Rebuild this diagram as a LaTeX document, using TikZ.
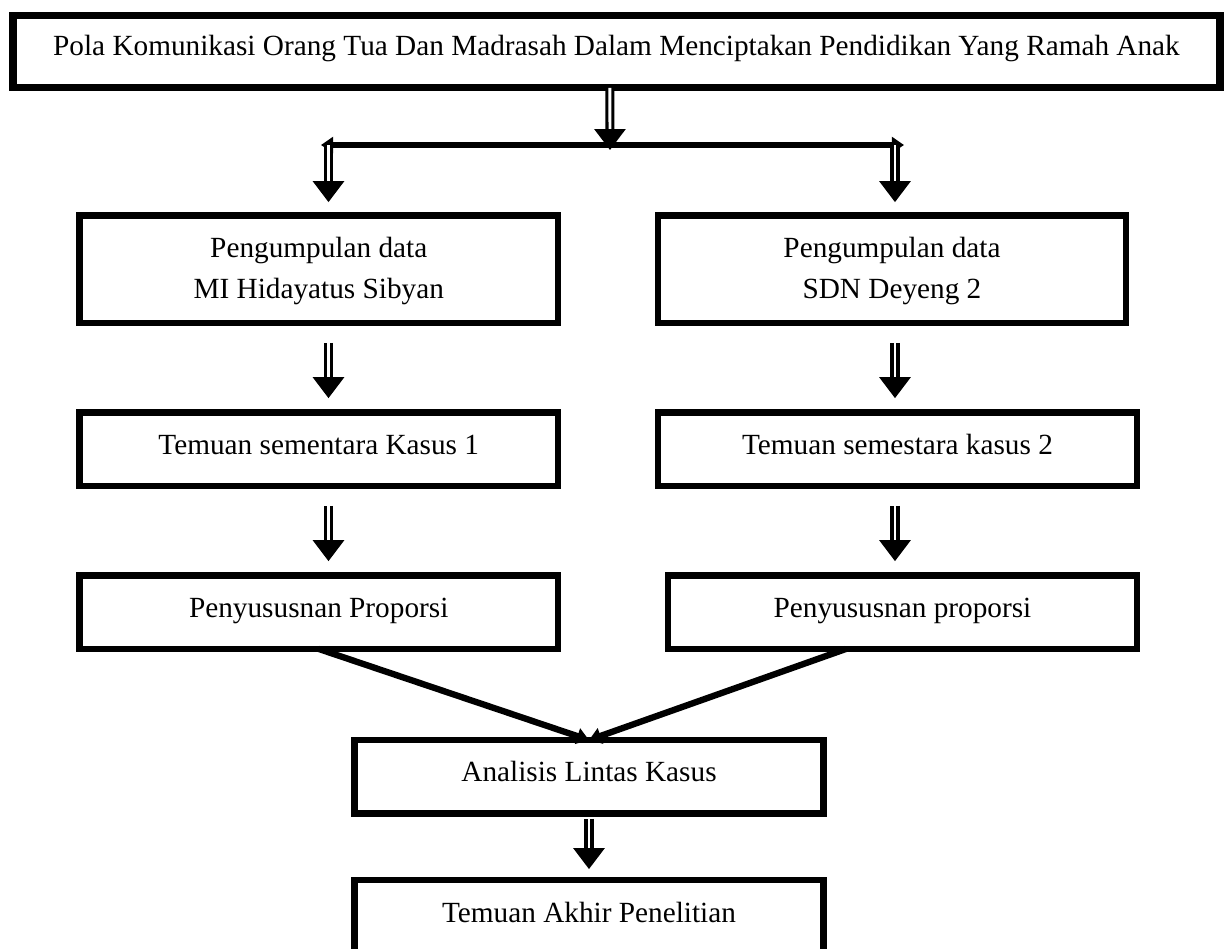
\documentclass[tikz,border=0pt]{standalone}
\usepackage{fontspec}
\setmainfont{Liberation Serif}
\usetikzlibrary{arrows.meta}

\tikzset{
  kotak/.style={draw, line width=2.7pt, inner sep=0pt, outer sep=0pt,
    text height=17.2pt, text depth=12.9pt,
    font=\fontsize{12}{16.8}\selectfont},
  panah/.style={double, double distance=1.2pt, line width=1.25pt,
    -{Triangle[width=12.7pt,length=8.6pt]}},
  garis/.style={line width=2.6pt},
  kepala/.tip={Triangle[width=6.5pt,length=5pt]},
}

\begin{document}
\begin{tikzpicture}[x=0.41pt,y=-0.41pt]
  \useasboundingbox (0,0) rectangle (1227,949);
  % kotak judul
  \node[kotak, line width=2.9pt, minimum width=494.9pt, text height=16.4pt, text depth=13.5pt] (atas) at (616.5,51.5)
    {Pola Komunikasi Orang Tua Dan Madrasah Dalam Menciptakan Pendidikan Yang Ramah Anak};
  % kolom kiri dan kanan
  \node[kotak, minimum width=196.2pt, text height=17.4pt, text depth=26.65pt] (kiri1) at (318.75,269.25)
    {\begin{tabular}[t]{@{}c@{}}Pengumpulan data\\MI Hidayatus Sibyan\end{tabular}};
  \node[kotak, minimum width=191.9pt, text height=17.4pt, text depth=26.65pt] (kanan1) at (892,269.25)
    {\begin{tabular}[t]{@{}c@{}}Pengumpulan data\\SDN Deyeng 2\end{tabular}};
  \node[kotak, minimum width=196.2pt] (kiri2) at (318.75,449.25) {Temuan sementara Kasus 1};
  \node[kotak, minimum width=196.4pt] (kanan2) at (897.5,449.25) {Temuan semestara kasus 2};
  \node[kotak, minimum width=196.2pt] (kiri3) at (318.75,612.25) {Penyususnan Proporsi};
  \node[kotak, minimum width=192.3pt] (kanan3) at (902.5,612.25) {Penyususnan proporsi};
  % kotak bawah
  \node[kotak, minimum width=192.3pt] (lintas) at (589,776.75) {Analisis Lintas Kasus};
  \node[kotak, minimum width=192.3pt, text depth=13.5pt] (akhir) at (589,917.5) {Temuan Akhir Penelitian};

  % percabangan
  \coordinate (cabang) at (610,150);
  \coordinate (ujungki) at (321,145);
  \coordinate (ujungka) at (904,145);
  \coordinate (ki) at (328.5,145);
  \coordinate (ka) at (895,145);
  \draw[garis, kepala-kepala] (ujungki) -- (ujungka);
  \draw[panah] ([xshift=-2.7pt]atas.south) -- (cabang);
  \draw[panah, shorten >=5.5pt] (ki) -- (ki |- kiri1.north);
  \draw[panah, shorten >=5.5pt] (ka) -- (ka |- kanan1.north);

  \draw[panah, shorten <=8.2pt, shorten >=5.9pt] (ki |- kiri1.south) -- (ki |- kiri2.north);
  \draw[panah, shorten <=8.2pt, shorten >=5.9pt] (ka |- kanan1.south) -- (ka |- kanan2.north);
  \draw[panah, shorten <=8.2pt, shorten >=5.9pt] (ki |- kiri2.south) -- (ki |- kiri3.north);
  \draw[panah, shorten <=8.2pt, shorten >=5.9pt] (ka |- kanan2.south) -- (ka |- kanan3.north);

  % gabungan ke analisis
  \draw[garis, -kepala] (kiri3.south) -- (lintas.north);
  \draw[garis, -kepala] ([xshift=-23.2pt]kanan3.south) -- (lintas.north);
  \draw[panah, shorten <=2.2pt, shorten >=4.5pt] (lintas.south) -- (akhir.north);
\end{tikzpicture}
\end{document}
